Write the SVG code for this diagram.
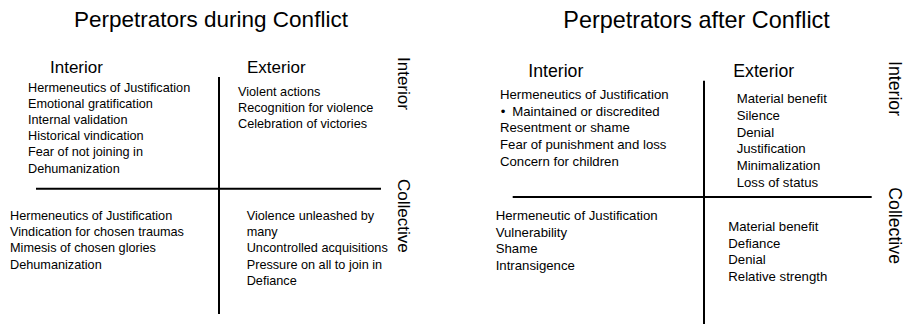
<svg xmlns="http://www.w3.org/2000/svg" width="907" height="324" viewBox="0 0 907 324">
<style>
text{font-family:"Liberation Sans",Arial,sans-serif;fill:#000}
.t1{font-size:22.5px}
.h1{font-size:17px}
.b1{font-size:12.7px}
.t2{font-size:23.4px}
.h2{font-size:17.7px}
.b2{font-size:13.2px}
line{stroke:#000;stroke-width:2}
</style>
<rect width="907" height="324" fill="#fff"/>
<g id="during">
<text id="title-during" class="t1" x="74" y="27">Perpetrators during Conflict</text>
<g id="d-axes">
<line x1="219" y1="77" x2="219" y2="314"/>
<line x1="36" y1="188.7" x2="381" y2="188.7"/>
</g>
<text class="h1" x="50" y="73">Interior</text>
<text class="h1" x="247" y="73">Exterior</text>
<text class="h1" transform="translate(397.5,57) rotate(90)">Interior</text>
<text class="h1" transform="translate(397.5,179) rotate(90)">Collective</text>
<g id="d-int-int" class="b1">
<text x="28" y="91.5">Hermeneutics of Justification</text>
<text x="28" y="107.7">Emotional gratification</text>
<text x="28" y="123.9">Internal validation</text>
<text x="28" y="140.1">Historical vindication</text>
<text x="28" y="156.3">Fear of not joining in</text>
<text x="28" y="172.5">Dehumanization</text>
</g>
<g id="d-ext-int" class="b1">
<text x="238" y="96">Violent actions</text>
<text x="238" y="112.2">Recognition for violence</text>
<text x="238" y="128.4">Celebration of victories</text>
</g>
<g id="d-int-col" class="b1">
<text x="10" y="220">Hermeneutics of Justification</text>
<text x="10" y="236.2">Vindication for chosen traumas</text>
<text x="10" y="252.4">Mimesis of chosen glories</text>
<text x="10" y="268.6">Dehumanization</text>
</g>
<g id="d-ext-col" class="b1">
<text x="246.7" y="220">Violence unleashed by</text>
<text x="246.7" y="236.2">many</text>
<text x="246.7" y="252.4">Uncontrolled acquisitions</text>
<text x="246.7" y="268.6">Pressure on all to join in</text>
<text x="246.7" y="284.8">Defiance</text>
</g>
</g>
<g id="after">
<text id="title-after" class="t2" x="563.3" y="28.3">Perpetrators after Conflict</text>
<g id="a-axes">
<line x1="704" y1="80.7" x2="704" y2="324"/>
<line x1="512.7" y1="197" x2="871.7" y2="197"/>
</g>
<text class="h2" x="528.3" y="77.3">Interior</text>
<text class="h2" x="733.3" y="77.3">Exterior</text>
<text class="h2" transform="translate(889,61) rotate(90)">Interior</text>
<text class="h2" transform="translate(889,187.3) rotate(90)">Collective</text>
<g id="a-int-int" class="b2">
<text x="500" y="99">Hermeneutics of Justification</text>
<text x="500.7" y="115.7">•</text>
<text x="512.3" y="115.7">Maintained or discredited</text>
<text x="500" y="132.4">Resentment or shame</text>
<text x="500" y="149.1">Fear of punishment and loss</text>
<text x="500" y="165.8">Concern for children</text>
</g>
<g id="a-ext-int" class="b2">
<text x="736.7" y="103.3">Material benefit</text>
<text x="736.7" y="120">Silence</text>
<text x="736.7" y="136.7">Denial</text>
<text x="736.7" y="153.4">Justification</text>
<text x="736.7" y="170.1">Minimalization</text>
<text x="736.7" y="186.8">Loss of status</text>
</g>
<g id="a-int-col" class="b2">
<text x="495.7" y="220">Hermeneutic of Justification</text>
<text x="495.7" y="236.7">Vulnerability</text>
<text x="495.7" y="253.4">Shame</text>
<text x="495.7" y="270.1">Intransigence</text>
</g>
<g id="a-ext-col" class="b2">
<text x="728.3" y="231">Material benefit</text>
<text x="728.3" y="247.7">Defiance</text>
<text x="728.3" y="264.4">Denial</text>
<text x="728.3" y="281.1">Relative strength</text>
</g>
</g>
</svg>
